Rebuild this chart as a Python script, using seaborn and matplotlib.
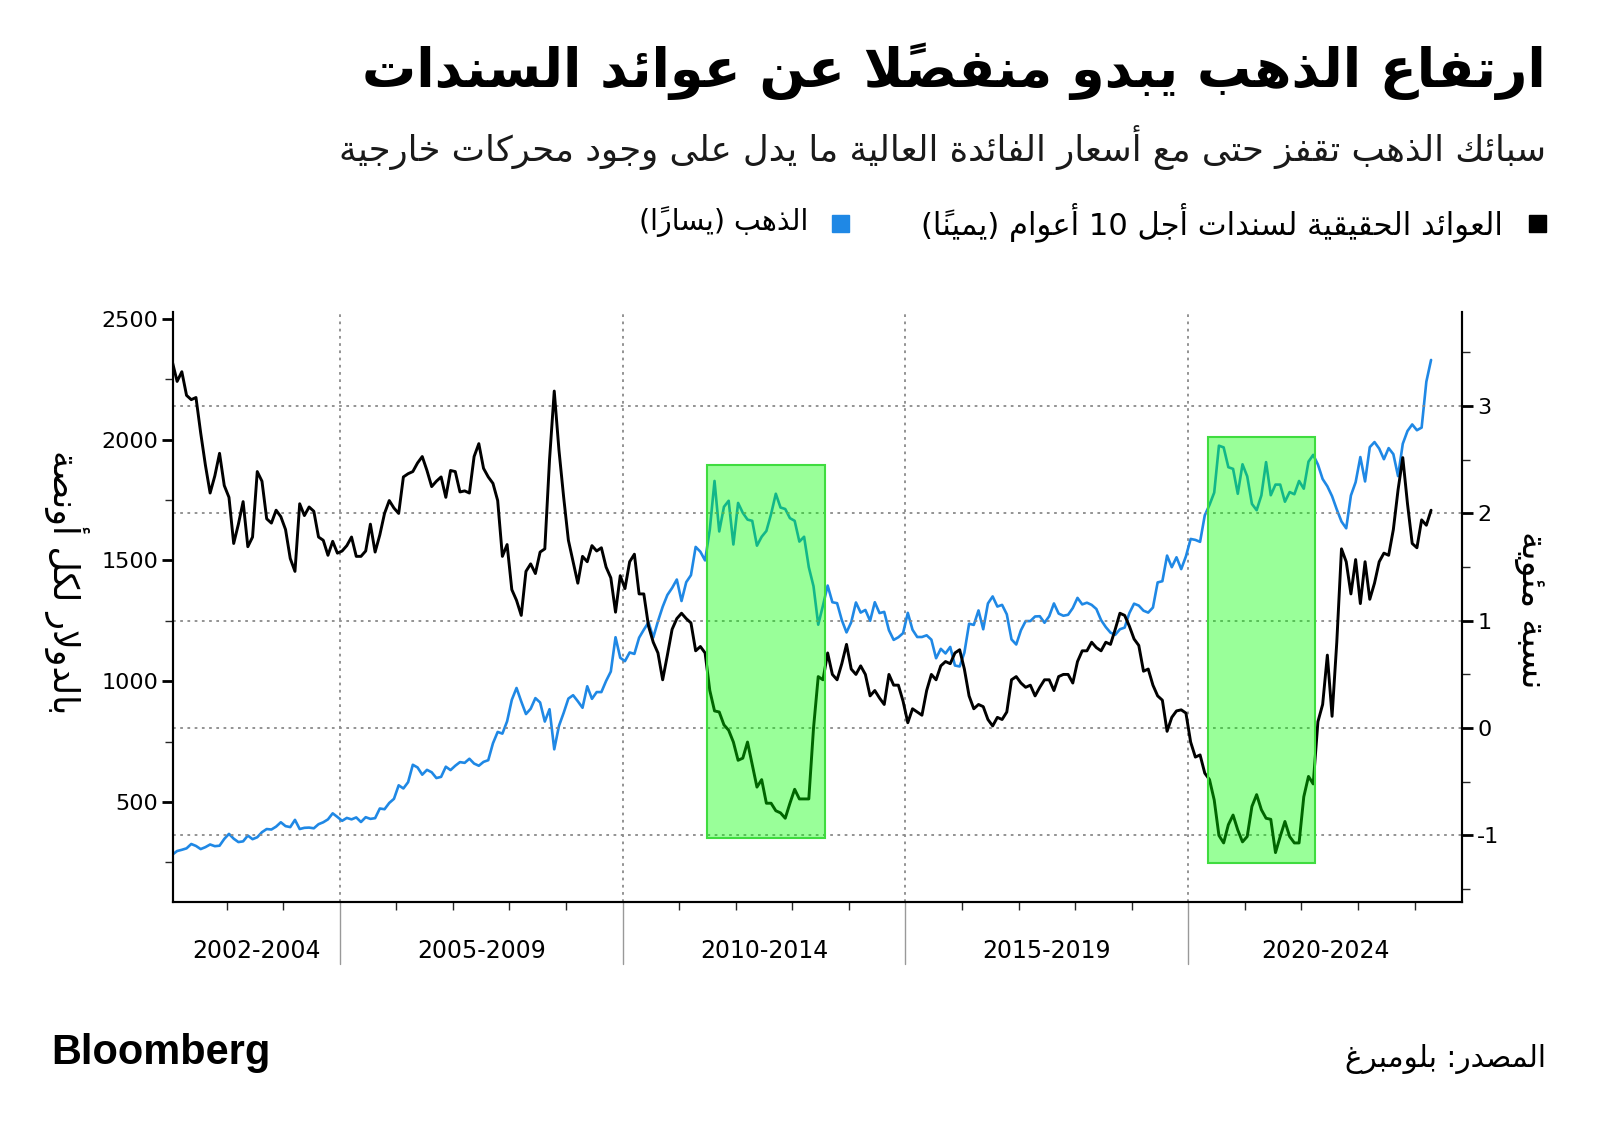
import matplotlib
matplotlib.use("Agg")
import pandas as pd
import matplotlib.pyplot as plt
from matplotlib.patches import Rectangle
from matplotlib.ticker import MultipleLocator, NullFormatter
import seaborn as sns

# ---------- DATA (monthly, Jan 2002 - Apr 2024) ----------
period_labels = ["2002-2004", "2005-2009", "2010-2014", "2015-2019", "2020-2024"]
period_starts = [2002, 2005, 2010, 2015, 2020]

# gold, USD per ounce (left axis)
gold_2002_2004 = [282, 297, 302, 308, 326, 318, 305, 313, 324, 317, 319, 347,
                  368, 348, 334, 337, 361, 346, 354, 375, 388, 386, 398, 416,
                  400, 396, 426, 388, 393, 394, 391, 408, 416, 428, 453, 438]
gold_2005_2009 = [422, 434, 428, 436, 417, 437, 430, 433, 473, 470, 496, 513,
                  569, 556, 582, 654, 643, 613, 633, 623, 599, 604, 646, 632,
                  650, 665, 662, 679, 659, 650, 666, 673, 743, 790, 783, 834,
                  923, 972, 916, 864, 886, 930, 912, 833, 884, 718, 815, 869,
                  928, 942, 917, 890, 979, 927, 955, 955, 1001, 1040, 1182, 1097]
gold_2010_2014 = [1083, 1119, 1113, 1180, 1213, 1244, 1181, 1248, 1308, 1357, 1386, 1421,
                  1332, 1410, 1439, 1556, 1536, 1500, 1628, 1829, 1620, 1722, 1747, 1566,
                  1738, 1697, 1669, 1664, 1561, 1598, 1622, 1692, 1776, 1719, 1713, 1675,
                  1664, 1578, 1598, 1472, 1393, 1234, 1313, 1396, 1327, 1323, 1253, 1202,
                  1244, 1326, 1284, 1295, 1250, 1327, 1282, 1287, 1211, 1171, 1182, 1199]
gold_2015_2019 = [1283, 1213, 1183, 1183, 1190, 1172, 1095, 1134, 1115, 1142, 1065, 1061,
                  1118, 1238, 1233, 1293, 1215, 1322, 1351, 1309, 1316, 1277, 1173, 1152,
                  1211, 1249, 1249, 1268, 1269, 1242, 1269, 1322, 1280, 1271, 1275, 1303,
                  1345, 1318, 1325, 1316, 1299, 1253, 1224, 1201, 1192, 1215, 1222, 1282,
                  1321, 1313, 1292, 1284, 1305, 1409, 1414, 1520, 1472, 1513, 1464, 1517]
gold_2020_2024 = [1589, 1585, 1577, 1687, 1730, 1781, 1975, 1968, 1886, 1879, 1776, 1898,
                  1848, 1734, 1708, 1769, 1907, 1770, 1814, 1814, 1743, 1783, 1774, 1829,
                  1797, 1909, 1937, 1897, 1837, 1807, 1766, 1711, 1661, 1633, 1769, 1824,
                  1928, 1827, 1969, 1990, 1963, 1919, 1965, 1940, 1849, 1983, 2036, 2063,
                  2039, 2050, 2240, 2330]

# 10-year real yield, percent (right axis)
real_2002_2004 = [3.41, 3.23, 3.32, 3.10, 3.06, 3.08, 2.75, 2.45, 2.19, 2.35, 2.56, 2.26,
                  2.15, 1.72, 1.90, 2.11, 1.69, 1.78, 2.39, 2.30, 1.95, 1.91, 2.03, 1.97,
                  1.85, 1.58, 1.46, 2.09, 1.98, 2.06, 2.02, 1.78, 1.75, 1.61, 1.74, 1.63]
real_2005_2009 = [1.65, 1.70, 1.78, 1.60, 1.60, 1.65, 1.90, 1.64, 1.80, 2.00, 2.12, 2.05,
                  2.00, 2.34, 2.37, 2.39, 2.47, 2.53, 2.40, 2.25, 2.30, 2.34, 2.15, 2.40,
                  2.39, 2.20, 2.21, 2.19, 2.53, 2.65, 2.42, 2.34, 2.28, 2.12, 1.60, 1.71,
                  1.29, 1.19, 1.05, 1.46, 1.53, 1.44, 1.64, 1.67, 2.50, 3.14, 2.59, 2.15,
                  1.75, 1.55, 1.35, 1.60, 1.55, 1.70, 1.65, 1.68, 1.50, 1.40, 1.08, 1.42]
real_2010_2014 = [1.30, 1.55, 1.62, 1.25, 1.25, 0.95, 0.80, 0.70, 0.45, 0.68, 0.92, 1.02,
                  1.07, 1.02, 0.98, 0.72, 0.76, 0.70, 0.35, 0.16, 0.15, 0.03, -0.02, -0.13,
                  -0.30, -0.28, -0.13, -0.34, -0.55, -0.48, -0.70, -0.70, -0.77, -0.79, -0.84, -0.70,
                  -0.57, -0.66, -0.66, -0.66, 0.00, 0.48, 0.45, 0.70, 0.50, 0.45, 0.60, 0.78,
                  0.55, 0.50, 0.58, 0.50, 0.30, 0.35, 0.28, 0.22, 0.50, 0.40, 0.40, 0.25]
real_2015_2019 = [0.05, 0.18, 0.15, 0.12, 0.35, 0.50, 0.45, 0.58, 0.62, 0.60, 0.70, 0.73,
                  0.55, 0.30, 0.18, 0.22, 0.20, 0.08, 0.02, 0.10, 0.08, 0.15, 0.45, 0.48,
                  0.42, 0.38, 0.40, 0.30, 0.38, 0.45, 0.45, 0.35, 0.48, 0.50, 0.50, 0.42,
                  0.62, 0.72, 0.72, 0.80, 0.75, 0.72, 0.80, 0.78, 0.92, 1.07, 1.05, 0.95,
                  0.83, 0.77, 0.53, 0.55, 0.40, 0.30, 0.26, -0.03, 0.10, 0.16, 0.17, 0.14]
real_2020_2024 = [-0.13, -0.27, -0.25, -0.42, -0.48, -0.67, -1.00, -1.07, -0.90, -0.81, -0.95, -1.06,
                  -1.01, -0.73, -0.62, -0.76, -0.84, -0.85, -1.16, -1.01, -0.87, -1.01, -1.07, -1.07,
                  -0.64, -0.45, -0.52, 0.06, 0.22, 0.68, 0.11, 0.80, 1.67, 1.55, 1.25, 1.57,
                  1.16, 1.55, 1.20, 1.35, 1.55, 1.63, 1.61, 1.85, 2.22, 2.52, 2.09, 1.72,
                  1.68, 1.94, 1.89, 2.03]

gold = gold_2002_2004 + gold_2005_2009 + gold_2010_2014 + gold_2015_2019 + gold_2020_2024
real_yield = real_2002_2004 + real_2005_2009 + real_2010_2014 + real_2015_2019 + real_2020_2024

months = pd.date_range("2002-01-01", periods=len(gold), freq="MS")
df = pd.DataFrame({
    "t": months.year + (months.month - 0.5) / 12,
    "gold": gold,
    "real": real_yield,
})

# ---------- TEXT ----------
title = "ارتفاع الذهب يبدو منفصلاً عن عوائد السندات"
subtitle = "سبائك الذهب تقفز حتى مع أسعار الفائدة العالية ما يدل على وجود محركات خارجية"
legend_real = "العوائد الحقيقية لسندات أجل 10 أعوام (يميناً)"
legend_gold = "الذهب (يساراً)"
left_label = "بالدولار لكل أونصة"
right_label = "نسبة مئوية"
source = "المصدر: بلومبرغ"

# matplotlib has no Arabic shaping, so pick the joined glyph forms by hand
AR_DUAL = {'ئ': 0xFE89, 'ب': 0xFE8F, 'ت': 0xFE95, 'ث': 0xFE99, 'ج': 0xFE9D,
           'ح': 0xFEA1, 'خ': 0xFEA5, 'س': 0xFEB1, 'ش': 0xFEB5, 'ص': 0xFEB9,
           'ض': 0xFEBD, 'ط': 0xFEC1, 'ظ': 0xFEC5, 'ع': 0xFEC9, 'غ': 0xFECD,
           'ف': 0xFED1, 'ق': 0xFED5, 'ك': 0xFED9, 'ل': 0xFEDD, 'م': 0xFEE1,
           'ن': 0xFEE5, 'ه': 0xFEE9, 'ي': 0xFEF1}
AR_RIGHT = {'آ': 0xFE81, 'أ': 0xFE83, 'ؤ': 0xFE85, 'إ': 0xFE87, 'ا': 0xFE8D,
            'ة': 0xFE93, 'د': 0xFEA9, 'ذ': 0xFEAB, 'ر': 0xFEAD, 'ز': 0xFEAF,
            'و': 0xFEED, 'ى': 0xFEEF}
LAM_ALEF = {'آ': 0xFEF5, 'أ': 0xFEF7, 'إ': 0xFEF9, 'ا': 0xFEFB}
MIRROR = {'(': ')', ')': '('}


def ar(text):
    units = []
    i = 0
    while i < len(text):
        c = text[i]
        if '\u064B' <= c <= '\u0652' and units:
            units[-1][2] += c
        elif c == 'ل' and i + 1 < len(text) and text[i + 1] in LAM_ALEF:
            units.append(['la', text[i + 1], ''])
            i += 1
        else:
            kind = 'd' if c in AR_DUAL else 'r' if c in AR_RIGHT else 'n'
            units.append([kind, c, ''])
        i += 1
    glyphs = []
    for j, (kind, c, marks) in enumerate(units):
        prev_d = j > 0 and units[j - 1][0] == 'd'
        nxt = units[j + 1][0] if j + 1 < len(units) else 'n'
        if kind == 'd':
            nxt_j = nxt in ('d', 'r', 'la')
            form = (3 if nxt_j else 1) if prev_d else (2 if nxt_j else 0)
            g = chr(AR_DUAL[c] + form)
        elif kind == 'r':
            g = chr(AR_RIGHT[c] + (1 if prev_d else 0))
        elif kind == 'la':
            g = chr(LAM_ALEF[c] + (1 if prev_d else 0))
        else:
            g = MIRROR.get(c, c)
        glyphs.append((g + marks, c.isascii() and c.isalnum()))
    # right-to-left visual order, digits stay left-to-right
    glyphs.reverse()
    out, run = [], []
    for g, ltr in glyphs:
        if ltr:
            run.append(g)
        else:
            out.extend(reversed(run))
            run = []
            out.append(g)
    out.extend(reversed(run))
    return ''.join(out)


# ---------- PLOT ----------
sns.set_theme(style="white")
plt.rcParams["font.family"] = ["DejaVu Sans"]
plt.rcParams["axes.unicode_minus"] = False

W, H = 1600, 1132
BLUE = "#1f88e5"
GRID = "#8a8a8a"

fig = plt.figure(figsize=(W / 100, H / 100), dpi=100)
fig.patch.set_facecolor("white")
ax = fig.add_axes([0.1084, 0.2032, 0.8054, 0.5215])
ax.set_facecolor("none")

sns.lineplot(data=df, x="t", y="gold", ax=ax, color=BLUE, linewidth=1.9)
ax2 = ax.twinx()
sns.lineplot(data=df, x="t", y="real", ax=ax2, color="black", linewidth=2.1)

ax.set_xlim(2002.06, 2024.84)
ax.set_ylim(86, 2530)
ax2.set_ylim(-1.62, 3.88)
ax.set_xlabel("")
ax.set_ylabel("")
ax2.set_ylabel("")

for a in (ax, ax2):
    a.spines["top"].set_visible(False)
    for s in ("left", "right", "bottom"):
        a.spines[s].set_color("black")
        a.spines[s].set_linewidth(1.5)

# left axis ticks
ax.yaxis.set_major_locator(MultipleLocator(500))
ax.yaxis.set_minor_locator(MultipleLocator(250))
ax.tick_params(axis="y", which="major", direction="out", length=8, width=2,
               labelsize=16, pad=3, colors="black")
ax.tick_params(axis="y", which="minor", direction="out", length=6, width=1)
ax.tick_params(axis="y", which="both", left=True)

# right axis ticks
ax2.yaxis.set_major_locator(MultipleLocator(1))
ax2.yaxis.set_minor_locator(MultipleLocator(0.5))
ax2.tick_params(axis="y", which="major", direction="out", length=8, width=2,
                labelsize=16, pad=3, colors="black")
ax2.tick_params(axis="y", which="minor", direction="out", length=6, width=1)
ax2.tick_params(axis="y", which="both", right=True)
ax2.yaxis.grid(True, which="major", linestyle=(0, (1.5, 2.5)), color=GRID, linewidth=1.3)

# year ticks along the bottom, period separators and labels
ax.set_xticks([y for y in range(2003, 2025) if y not in period_starts])
ax.xaxis.set_major_formatter(NullFormatter())
ax.tick_params(axis="x", direction="out", length=6, width=1, bottom=True)
for s in period_starts[1:]:
    ax.axvline(s, color=GRID, linestyle=(0, (1.5, 2.5)), linewidth=1.3, zorder=0)
    ax.plot([s, s], [0, -0.105], transform=ax.get_xaxis_transform(),
            color="#999999", linewidth=1, clip_on=False)
period_ends = period_starts[1:] + [ax.get_xlim()[1]]
for lab, a0, a1 in zip(period_labels, [ax.get_xlim()[0]] + period_starts[1:], period_ends):
    ax.text((a0 + a1) / 2, -0.083, lab, transform=ax.get_xaxis_transform(),
            ha="center", va="center", fontsize=17, color="black")

# highlighted episodes (green boxes over the lines)
for x0, x1, y0, y1 in [(2011.50, 2013.58, -1.02, 2.45), (2020.34, 2022.24, -1.26, 2.71)]:
    ax2.add_patch(Rectangle((x0, y0), x1 - x0, y1 - y0, facecolor="#00ff00",
                            alpha=0.4, edgecolor="none", zorder=5))
    ax2.add_patch(Rectangle((x0, y0), x1 - x0, y1 - y0, facecolor="none",
                            edgecolor="#3fdc3f", linewidth=1.5, zorder=6))

# ---------- TEXT LAYOUT ----------
renderer = fig.canvas.get_renderer()


def fit_text(x, y, s, length_px, size, **kw):
    t = fig.text(x, y, s, fontsize=size, **kw)
    ext = t.get_window_extent(renderer=renderer)
    t.set_fontsize(size * length_px / max(ext.width, ext.height))
    return t


fit_text(1546 / W, 1 - 71 / H, ar(title), 1184, 34, ha="right", va="center",
         fontweight="bold", color="black")
fit_text(1546 / W, 1 - 148 / H, ar(subtitle), 1209, 22, ha="right", va="center",
         color="#1a1a1a")

fig.add_artist(Rectangle((1529 / W, 1 - 232 / H), 17 / W, 17 / H,
                         transform=fig.transFigure, color="black"))
fit_text(1503 / W, 1 - 222 / H, ar(legend_real), 580, 20, ha="right", va="center",
         color="black")
fig.add_artist(Rectangle((832 / W, 1 - 232 / H), 17 / W, 17 / H,
                         transform=fig.transFigure, color=BLUE))
fit_text(808 / W, 1 - 222 / H, ar(legend_gold), 170, 20, ha="right", va="center",
         color="black")

fit_text(66 / W, 1 - 582 / H, ar(left_label), 265, 18, rotation=270,
         ha="center", va="center", color="black")
fit_text(1531 / W, 1 - 610 / H, ar(right_label), 158, 18, rotation=270,
         ha="center", va="center", color="black")

fit_text(51 / W, 1 - 1053 / H, "Bloomberg", 219, 26, ha="left", va="center",
         fontweight="bold", family=["Liberation Sans", "DejaVu Sans"], color="black")
fit_text(1546 / W, 1 - 1059 / H, ar(source), 201, 18, ha="right", va="center",
         color="black")

fig.savefig("out.png", dpi=100, facecolor="white")
